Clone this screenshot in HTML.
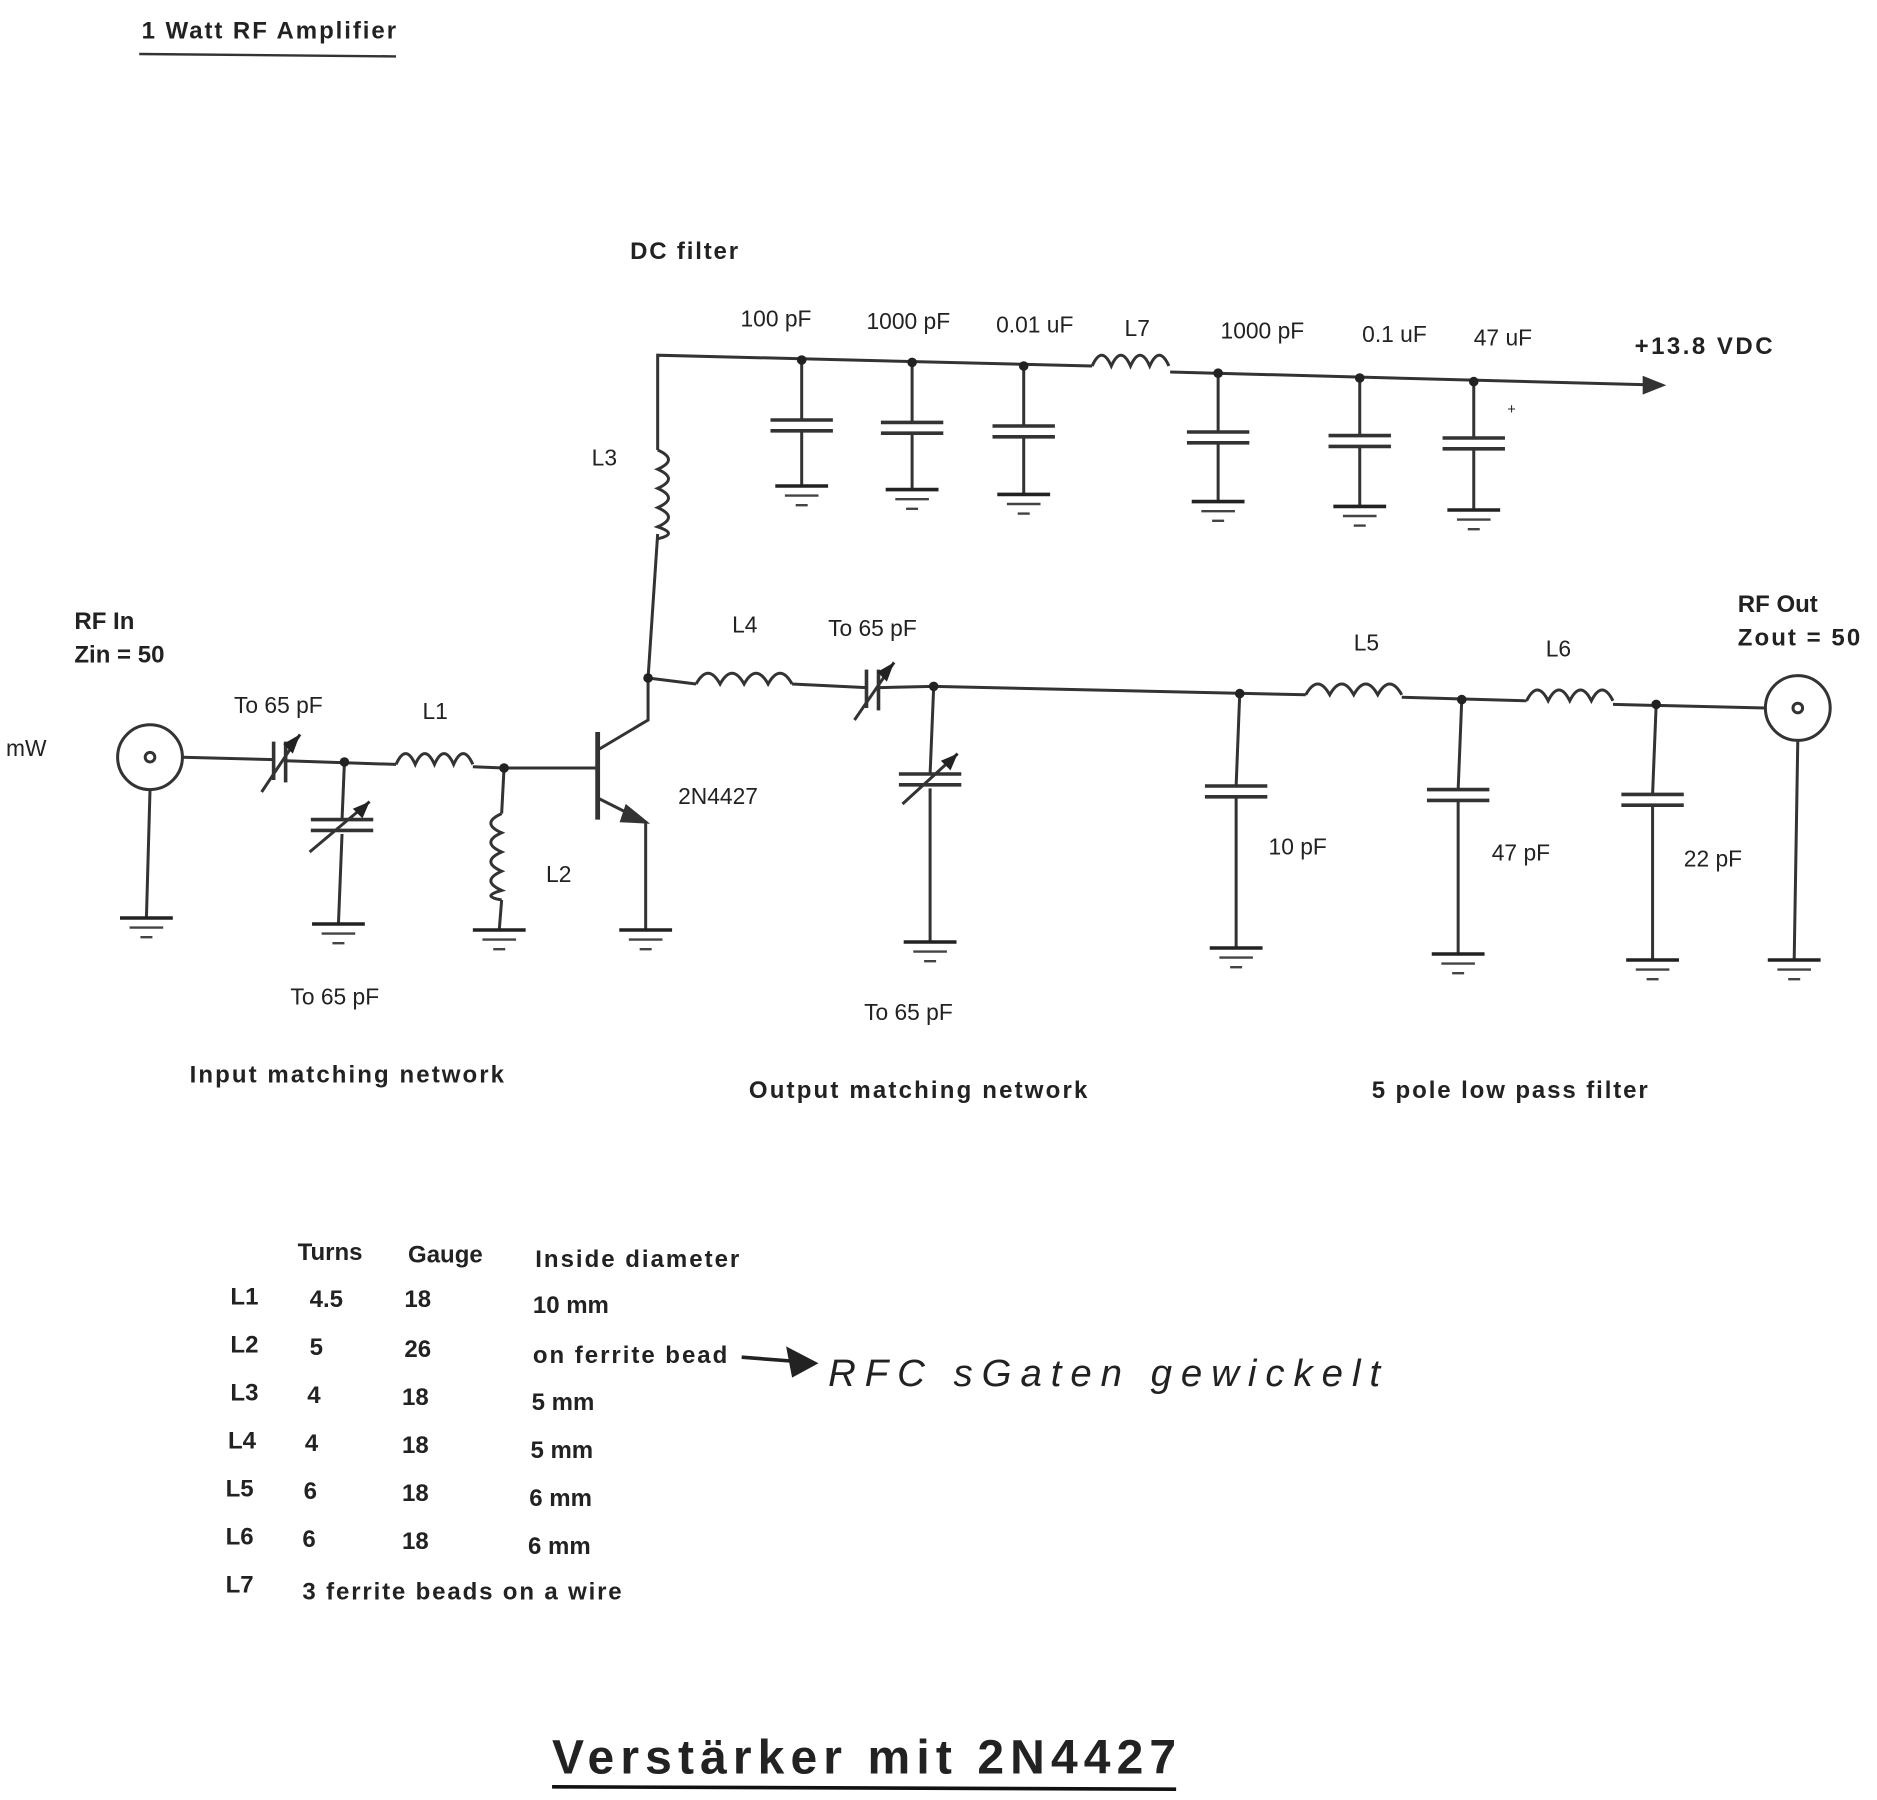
<!DOCTYPE html>
<html><head><meta charset="utf-8"><style>
html,body{margin:0;padding:0;background:#fff}
svg{display:block}
text{font-family:"Liberation Sans",sans-serif;fill:#222}
.b{font-weight:bold}
</style></head><body>
<svg width="1877" height="1800" viewBox="0 0 1564 1500" preserveAspectRatio="none" xmlns="http://www.w3.org/2000/svg">
<defs>
<g id="gnd"><line x1="-22" y1="0" x2="22" y2="0" stroke="#222" stroke-width="3"/><line x1="-14" y1="8" x2="14" y2="8" stroke="#444" stroke-width="2"/><line x1="-5" y1="16" x2="5" y2="16" stroke="#444" stroke-width="2"/></g>
<g id="capv"><line x1="-26" y1="0" x2="26" y2="0" stroke="#333" stroke-width="3"/><line x1="-26" y1="9" x2="26" y2="9" stroke="#333" stroke-width="3"/></g>
</defs>
<g fill="none" stroke="#333" stroke-width="2.5">
<polyline points="548,375 548,296 910,305"/>
<path d="M910,305 q8,-18 16,0 q8,-18 16,0 q8,-18 16,0 q8,-18 16,0" />
<polyline points="975,310 1385,321"/>
<polygon points="1385,321 1370,315 1370,327" fill="#333"/>
<line x1="668" y1="300" x2="668" y2="350"/><line x1="668" y1="360" x2="668" y2="405"/>
<line x1="760" y1="302" x2="760" y2="352"/><line x1="760" y1="362" x2="760" y2="408"/>
<line x1="853" y1="305" x2="853" y2="355"/><line x1="853" y1="365" x2="853" y2="412"/>
<line x1="1015" y1="311" x2="1015" y2="360"/><line x1="1015" y1="370" x2="1015" y2="418"/>
<line x1="1133" y1="315" x2="1133" y2="363"/><line x1="1133" y1="373" x2="1133" y2="422"/>
<line x1="1228" y1="318" x2="1228" y2="365"/><line x1="1228" y1="375" x2="1228" y2="425"/>
<path d="M548,375 q18,8 0,16 q18,8 0,16 q18,8 0,16 q18,8 0,16 q18,6 0,10"/>
<line x1="548" y1="445" x2="540" y2="565"/>
<line x1="498" y1="610" x2="498" y2="683" stroke-width="4"/>
<polyline points="420,640 498,640"/>
<polyline points="498,625 540,600 540,565"/>
<polyline points="498,665 538,685 538,775"/>
<polygon points="538,685 522,672 518,684" fill="#333"/>
<line x1="540" y1="565" x2="580" y2="570"/>
<path d="M580,570 q10,-18 20,0 q10,-18 20,0 q10,-18 20,0 q10,-18 20,0"/>
<line x1="660" y1="570" x2="722" y2="573"/>
<line x1="722" y1="558" x2="722" y2="590" stroke-width="3"/>
<line x1="732" y1="558" x2="732" y2="592" stroke-width="3"/>
<line x1="712" y1="600" x2="745" y2="552"/>
<line x1="732" y1="573" x2="778" y2="572"/>
<line x1="778" y1="572" x2="1088" y2="579"/>
<path d="M1088,579 q10,-18 20,0 q10,-18 20,0 q10,-18 20,0 q10,-18 20,0"/>
<line x1="1168" y1="581" x2="1272" y2="584"/>
<path d="M1272,584 q9,-18 18,0 q9,-18 18,0 q9,-18 18,0 q9,-18 18,0"/>
<line x1="1344" y1="587" x2="1471" y2="590"/>
<circle cx="1498" cy="590" r="27"/>
<circle cx="1498" cy="590" r="4"/>
<line x1="1498" y1="617" x2="1495" y2="800"/>
<line x1="778" y1="572" x2="775" y2="645"/><line x1="775" y1="657" x2="775" y2="785"/>
<line x1="752" y1="670" x2="798" y2="628"/>
<line x1="1033" y1="578" x2="1030" y2="655"/><line x1="1030" y1="665" x2="1030" y2="790"/>
<line x1="1218" y1="583" x2="1215" y2="658"/><line x1="1215" y1="668" x2="1215" y2="795"/>
<line x1="1380" y1="587" x2="1377" y2="662"/><line x1="1377" y1="672" x2="1377" y2="800"/>
<circle cx="125" cy="631" r="27"/>
<circle cx="125" cy="631" r="4"/>
<line x1="125" y1="658" x2="122" y2="765"/>
<line x1="152" y1="631" x2="228" y2="633"/>
<line x1="228" y1="618" x2="228" y2="650" stroke-width="3"/>
<line x1="238" y1="618" x2="238" y2="652" stroke-width="3"/>
<line x1="218" y1="660" x2="250" y2="612"/>
<line x1="238" y1="634" x2="330" y2="637"/>
<path d="M330,637 q8,-18 16,0 q8,-18 16,0 q8,-18 16,0 q8,-18 16,0"/>
<line x1="394" y1="639" x2="420" y2="640"/>
<line x1="287" y1="635" x2="285" y2="683"/><line x1="285" y1="695" x2="282" y2="770"/>
<line x1="258" y1="710" x2="308" y2="668"/>
<line x1="420" y1="640" x2="418" y2="678"/>
<path d="M418,678 q-18,8 0,16 q-18,8 0,16 q-18,8 0,16 q-18,8 0,16 q-18,5 0,8"/>
<line x1="418" y1="750" x2="416" y2="775"/>
</g>
<g fill="#222">
<circle cx="668" cy="300" r="4"/><circle cx="760" cy="302" r="4"/><circle cx="853" cy="305" r="4"/>
<circle cx="1015" cy="311" r="4"/><circle cx="1133" cy="315" r="4"/><circle cx="1228" cy="318" r="4"/>
<circle cx="540" cy="565" r="4"/><circle cx="778" cy="572" r="4"/><circle cx="1033" cy="578" r="4"/>
<circle cx="1218" cy="583" r="4"/><circle cx="1380" cy="587" r="4"/><circle cx="287" cy="635" r="4"/><circle cx="420" cy="640" r="4"/>
<polygon points="250,612 236,620 244,628"/><polygon points="308,668 294,674 302,682"/><polygon points="798,628 784,634 792,642"/><polygon points="745,552 731,560 739,568"/>
</g>
<use href="#capv" x="668" y="350"/><use href="#capv" x="760" y="352"/><use href="#capv" x="853" y="355"/>
<use href="#capv" x="1015" y="360"/><use href="#capv" x="1133" y="363"/><use href="#capv" x="1228" y="365"/>
<use href="#capv" x="775" y="645"/><use href="#capv" x="1030" y="655"/><use href="#capv" x="1215" y="658"/><use href="#capv" x="1377" y="662"/><use href="#capv" x="285" y="683"/>
<use href="#gnd" x="668" y="405"/><use href="#gnd" x="760" y="408"/><use href="#gnd" x="853" y="412"/>
<use href="#gnd" x="1015" y="418"/><use href="#gnd" x="1133" y="422"/><use href="#gnd" x="1228" y="425"/>
<use href="#gnd" x="122" y="765"/><use href="#gnd" x="282" y="770"/><use href="#gnd" x="416" y="775"/><use href="#gnd" x="538" y="775"/>
<use href="#gnd" x="775" y="785"/><use href="#gnd" x="1030" y="790"/><use href="#gnd" x="1215" y="795"/><use href="#gnd" x="1377" y="800"/><use href="#gnd" x="1495" y="800"/>
<text x="118" y="32" font-size="20" class="b" textLength="212">1 Watt RF Amplifier</text>
<line x1="116" y1="45" x2="330" y2="47" stroke="#333" stroke-width="2"/>
<text x="525" y="216" font-size="20" class="b" textLength="90">DC filter</text>
<g font-size="19">
<text x="617" y="272">100 pF</text><text x="722" y="274">1000 pF</text><text x="830" y="277">0.01 uF</text><text x="937" y="280">L7</text>
<text x="1017" y="282">1000 pF</text><text x="1135" y="285">0.1 uF</text><text x="1228" y="288">47 uF</text>
<text x="493" y="388">L3</text><text x="565" y="670">2N4427</text>
<text x="195" y="594">To 65 pF</text><text x="352" y="599">L1</text><text x="455" y="735">L2</text><text x="242" y="837">To 65 pF</text>
<text x="610" y="527">L4</text><text x="690" y="530">To 65 pF</text><text x="1128" y="542">L5</text><text x="1288" y="547">L6</text>
<text x="1057" y="712">10 pF</text><text x="1243" y="717">47 pF</text><text x="1403" y="722">22 pF</text><text x="720" y="850">To 65 pF</text>
<text x="5" y="630">mW</text>
</g>
<text x="1256" y="345" font-size="12">+</text>
<g font-size="20" class="b">
<text x="1362" y="295" textLength="115">+13.8 VDC</text>
<text x="62" y="524">RF In</text><text x="62" y="552">Zin = 50</text>
<text x="1448" y="510">RF Out</text><text x="1448" y="538" textLength="102">Zout = 50</text>
<text x="158" y="902" textLength="262">Input matching network</text><text x="624" y="915" textLength="282">Output matching network</text><text x="1143" y="915" textLength="230">5 pole low pass filter</text>
</g>
<g font-size="20" class="b" fill="#222">
<text x="248" y="1050">Turns</text><text x="340" y="1052">Gauge</text><text x="446" y="1056" textLength="170">Inside diameter</text>
<text x="192" y="1087">L1</text><text x="258" y="1089">4.5</text><text x="337" y="1089">18</text><text x="444" y="1094">10 mm</text>
<text x="192" y="1127">L2</text><text x="258" y="1129">5</text><text x="337" y="1131">26</text><text x="444" y="1136" textLength="162">on ferrite bead</text>
<text x="192" y="1167">L3</text><text x="256" y="1169">4</text><text x="335" y="1171">18</text><text x="443" y="1175">5 mm</text>
<text x="190" y="1207">L4</text><text x="254" y="1209">4</text><text x="335" y="1211">18</text><text x="442" y="1215">5 mm</text>
<text x="188" y="1247">L5</text><text x="253" y="1249">6</text><text x="335" y="1251">18</text><text x="441" y="1255">6 mm</text>
<text x="188" y="1287">L6</text><text x="252" y="1289">6</text><text x="335" y="1291">18</text><text x="440" y="1295">6 mm</text>
<text x="188" y="1327">L7</text><text x="252" y="1333" textLength="266">3 ferrite beads on a wire</text>
</g>
<line x1="618" y1="1131" x2="670" y2="1135" stroke="#222" stroke-width="3"/>
<polygon points="682,1136 655,1122 660,1148" fill="#222"/>
<text x="690" y="1155" font-size="32" font-style="italic" fill="#444" font-family="'Liberation Serif',serif" textLength="460">RFC    sGaten   gewickelt</text>
<text x="460" y="1478" font-size="40" class="b" fill="#111" textLength="520">Verstärker mit 2N4427</text>
<line x1="460" y1="1489" x2="980" y2="1491" stroke="#111" stroke-width="3"/>
</svg>
</body></html>
